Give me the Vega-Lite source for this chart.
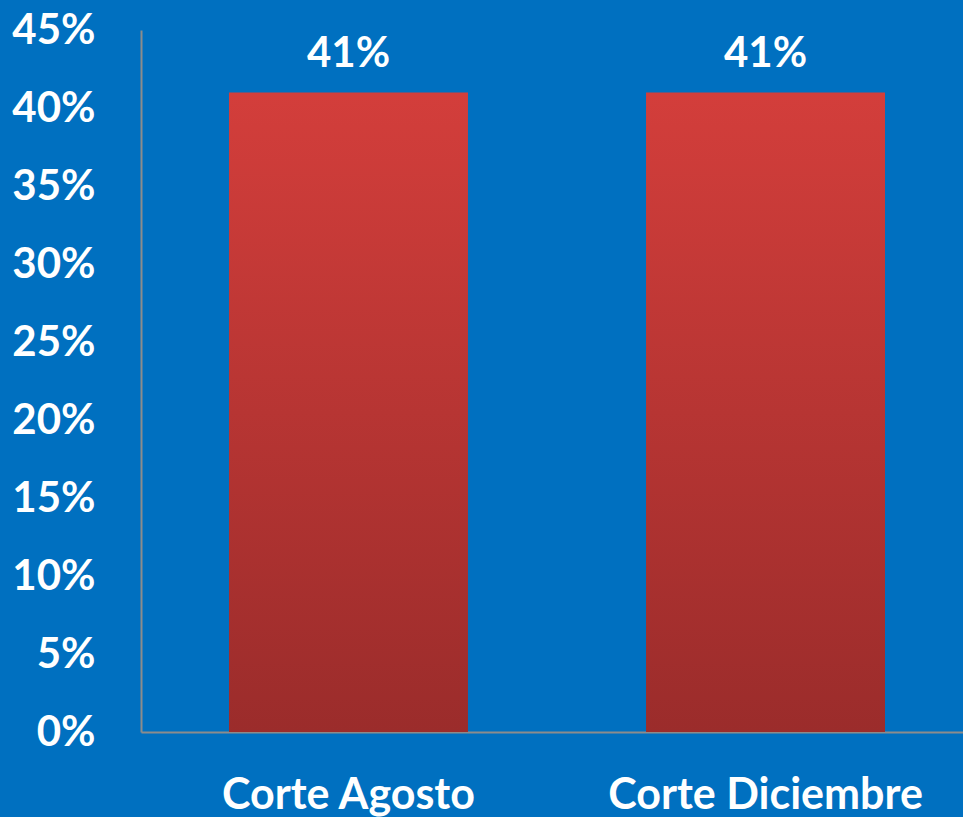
{
  "$schema": "https://vega.github.io/schema/vega-lite/v6.json",
  "autosize": {"type": "none"},
  "width": 832,
  "height": 702,
  "padding": {"left": 141, "top": 30, "right": 0, "bottom": 85},
  "background": "#0070C0",
  "config": {"view": {"stroke": null}},
  "data": {"values": [
    {"corte": "Corte Agosto", "valor": 0.41},
    {"corte": "Corte Diciembre", "valor": 0.41}
  ]},
  "encoding": {
    "x": {"field": "corte", "type": "nominal", "sort": null,
      "scale": {"paddingInner": 0.427, "paddingOuter": 0.211},
      "axis": {"title": null, "labelAngle": 0, "ticks": false, "tickSize": 0, "labelPadding": 76, "labelLimit": 0,
        "labelBaseline": "alphabetic", "labelFont": "Lato", "labelFontWeight": "bold", "labelFontSize": 43,
        "labelColor": "#FFFFFF", "domainColor": "#8C8C8C", "domainWidth": 2, "grid": false}},
    "y": {"field": "valor", "type": "quantitative",
      "scale": {"domain": [0, 0.45], "nice": false},
      "axis": {"title": null, "format": ".0%", "values": [0, 0.05, 0.1, 0.15, 0.2, 0.25, 0.3, 0.35, 0.4, 0.45],
        "ticks": false, "tickSize": 0, "labelPadding": 46, "labelFont": "Lato", "labelFontWeight": "bold",
        "labelFontSize": 42, "labelColor": "#FFFFFF", "domainColor": "#8C8C8C", "domainWidth": 2, "grid": false,
        "labelBaseline": "middle"}}
  },
  "layer": [
    {"mark": {"type": "bar", "color": {"gradient": "linear", "x1": 0, "y1": 0, "x2": 0, "y2": 1,
      "stops": [{"offset": 0, "color": "#D33E3B"}, {"offset": 1, "color": "#9B2C2B"}]}}},
    {"mark": {"type": "text", "baseline": "alphabetic", "dy": -25, "font": "Lato", "fontWeight": "bold",
      "fontSize": 42, "color": "#FFFFFF"},
     "encoding": {"text": {"field": "valor", "type": "quantitative", "format": ".0%"}}}
  ]
}
